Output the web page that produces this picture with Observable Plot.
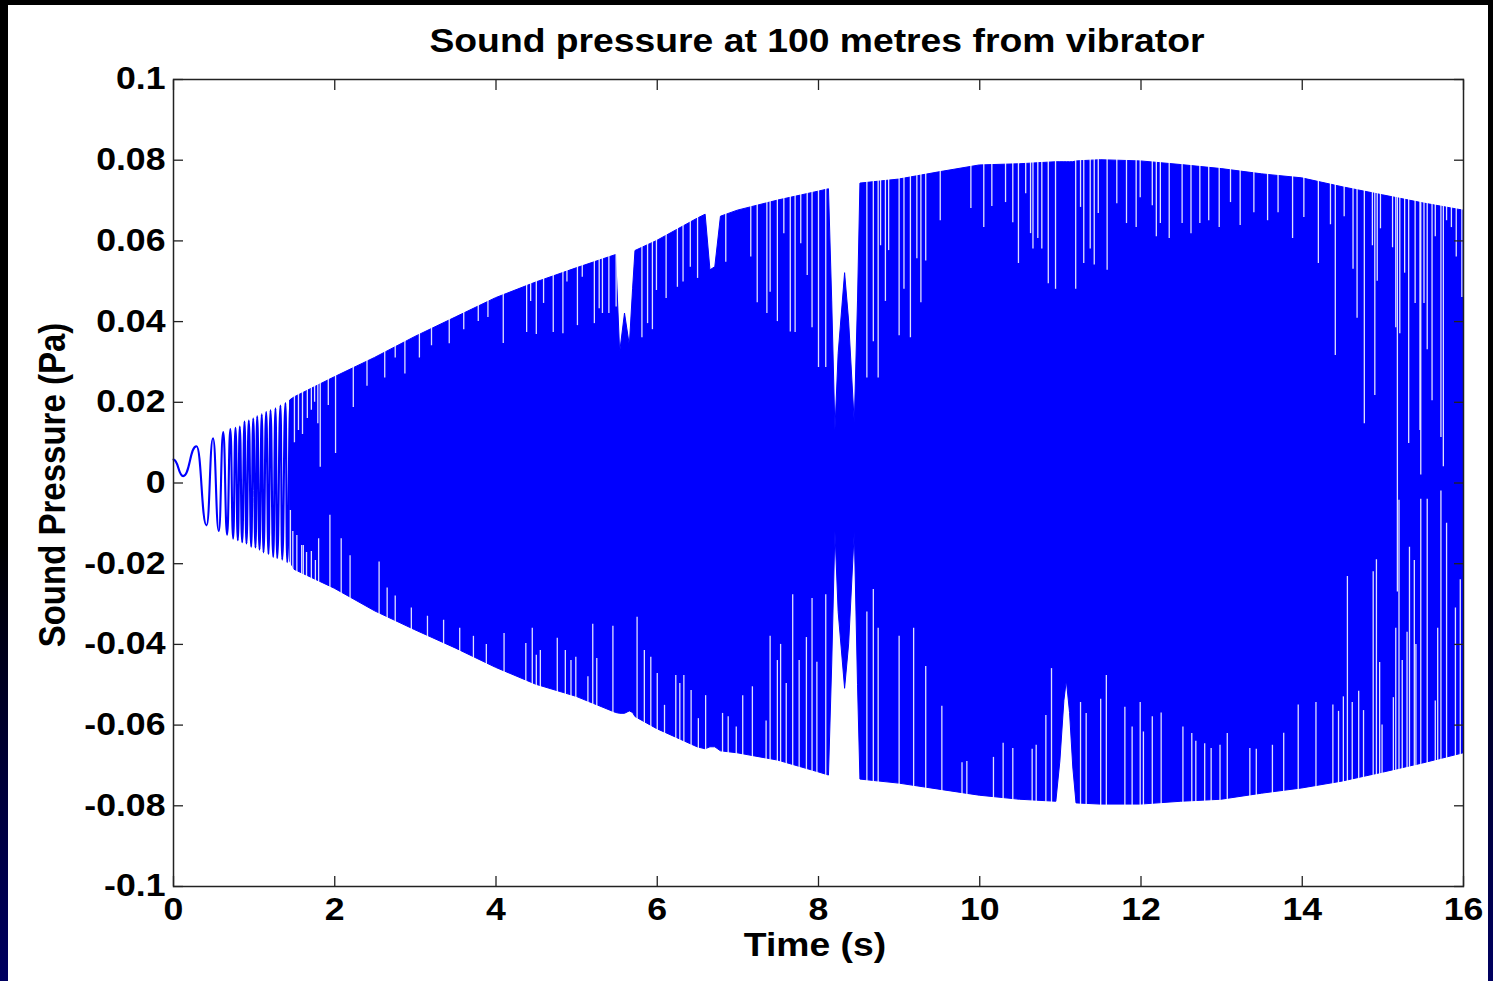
<!DOCTYPE html>
<html>
<head>
<meta charset="utf-8">
<script src="https://cdn.jsdelivr.net/npm/d3@7"></script>
<script src="https://cdn.jsdelivr.net/npm/@observablehq/plot@0.6"></script>
<style>
  html, body { margin: 0; padding: 0; background: #000; overflow: hidden; }
  #stage { position: relative; width: 1493px; height: 981px;
           background: linear-gradient(to bottom, #000 0%, #000 55%, #00003a 80%, #000060 100%); }
  #panel { position: absolute; left: 8px; top: 5px; width: 1480px; height: 976px; background: #fff; }
  #chart { position: absolute; left: 0; top: 0; }
  .lbl { position: absolute; font-family: "Liberation Sans", Arial, sans-serif; font-weight: bold;
         color: #000; white-space: nowrap; line-height: 1; }
  #title { left: 817px; top: 24px; font-size: 33px; transform: translateX(-50%) scaleX(1.13); }
  #xlabel { left: 815px; top: 928px; font-size: 33px; transform: translateX(-50%) scaleX(1.13); }
  #ylabel { left: 52px; top: 485px; font-size: 33px; transform: translate(-50%, -50%) rotate(-90deg) scaleY(1.13); }
</style>
</head>
<body>
<div id="stage">
  <div id="panel"></div>
  <div id="chart"></div>
  <div id="title" class="lbl">Sound pressure at 100 metres from vibrator</div>
  <div id="xlabel" class="lbl">Time (s)</div>
  <div id="ylabel" class="lbl">Sound Pressure (Pa)</div>
</div>
<script>
// ---- axis ticks ----
const xTicks = [0, 2, 4, 6, 8, 10, 12, 14, 16];
const xTickLabels = ["0", "2", "4", "6", "8", "10", "12", "14", "16"];
const yTicks = [-0.1, -0.08, -0.06, -0.04, -0.02, 0, 0.02, 0.04, 0.06, 0.08, 0.1];
const yTickLabels = ["-0.1", "-0.08", "-0.06", "-0.04", "-0.02", "0", "0.02", "0.04", "0.06", "0.08", "0.1"];

// ---- resolved oscillation at the start (extrema) ----
const earlyTime = [0, 0.12, 0.285, 0.41, 0.49, 0.562, 0.617, 0.665, 0.705, 0.740, 0.769, 0.798, 0.822, 0.852, 0.881,
  0.905, 0.934, 0.964, 0.989, 1.017, 1.038, 1.067, 1.095, 1.116, 1.150, 1.178, 1.203, 1.237, 1.265, 1.286,
  1.327, 1.348, 1.389, 1.410, 1.451];
const earlyPressure = [0.0058, 0.0017, 0.0091, -0.0105, 0.0111, -0.0119, 0.0126, -0.0128, 0.0134, -0.0138, 0.0137,
  -0.0142, 0.0140, -0.0147, 0.0152, -0.0150, 0.0155, -0.0158, 0.0160, -0.0160, 0.0165, -0.0165, 0.0170, -0.0172,
  0.0176, -0.0176, 0.0180, -0.0183, 0.0185, -0.0186, 0.0192, -0.0190, 0.0198, -0.0196, 0.0205];

// ---- envelope of the dense chirp (upper / lower extent) ----
const envTime = [1.45, 1.5, 2.0, 2.5, 3.0, 3.5, 4.0, 4.5, 5.0, 5.49, 5.54, 5.60, 5.66, 5.70, 5.73, 6.0, 6.5, 6.60,
  6.66, 6.72, 6.79, 7.0, 7.5, 8.0, 8.13, 8.17, 8.21, 8.25, 8.33, 8.38, 8.45, 8.49, 8.52, 9.0, 9.5, 10.0, 10.5,
  10.95, 11.0, 11.05, 11.08, 11.12, 11.16, 11.2, 11.5, 12.0, 12.5, 13.0, 13.5, 14.0, 14.5, 15.0, 15.5, 16.0];
const envUpper = [0.0205, 0.0212, 0.0262, 0.031, 0.0362, 0.041, 0.0458, 0.0497, 0.0532, 0.0565, 0.0323, 0.042,
  0.034, 0.048, 0.0575, 0.060, 0.0655, 0.0665, 0.0527, 0.0535, 0.066, 0.0675, 0.070, 0.0722, 0.0728, 0.045,
  0.013, 0.032, 0.052, 0.040, 0.0147, 0.045, 0.0742, 0.0752, 0.077, 0.0787, 0.079, 0.0795, 0.0795, 0.0795,
  0.0795, 0.0795, 0.0795, 0.0797, 0.080, 0.0797, 0.0788, 0.0778, 0.0765, 0.0755, 0.0733, 0.0713, 0.0693, 0.0675];
const envLower = [-0.0196, -0.0215, -0.0262, -0.0318, -0.0365, -0.041, -0.0458, -0.0500, -0.053, -0.057, -0.0572,
  -0.0572, -0.0566, -0.057, -0.058, -0.061, -0.0655, -0.066, -0.0655, -0.0655, -0.0665, -0.067, -0.0688, -0.0717,
  -0.0725, -0.045, -0.012, -0.032, -0.051, -0.040, -0.012, -0.050, -0.0735, -0.0745, -0.076, -0.0775, -0.0785,
  -0.079, -0.069, -0.054, -0.049, -0.057, -0.0705, -0.0794, -0.0797, -0.0797, -0.079, -0.0785, -0.077, -0.0757,
  -0.074, -0.0718, -0.0695, -0.067];

// ---- white gaps between oscillations: from the top edge down to a value ----
const gapTopTime = [1.50, 1.55, 1.60, 1.66, 1.71, 1.75, 1.79, 1.82, 1.92, 2.01, 2.23, 2.40, 2.62, 2.75, 2.87, 3.05,
  3.20, 3.42, 3.60, 3.78, 3.90, 4.09, 4.38, 4.43, 4.50, 4.59, 4.71, 4.83, 4.88, 5.01, 5.07, 5.22, 5.28, 5.32, 5.40,
  5.49, 5.81, 5.88, 5.94, 5.99, 6.11, 6.25, 6.32, 6.41, 6.50, 6.85, 7.16, 7.24, 7.36, 7.40, 7.49, 7.57, 7.65, 7.71,
  7.78, 7.86, 7.92, 8.00, 8.09, 8.60, 8.68, 8.74, 8.77, 8.83, 8.87, 9.00, 9.06, 9.14, 9.22, 9.27, 9.33, 9.51, 9.89,
  10.05, 10.15, 10.32, 10.41, 10.48, 10.57, 10.63, 10.66, 10.72, 10.77, 10.85, 10.94, 11.19, 11.25, 11.29, 11.37,
  11.42, 11.47, 11.58, 11.70, 11.82, 11.94, 11.99, 12.14, 12.19, 12.24, 12.35, 12.51, 12.62, 12.73, 12.84, 12.97,
  13.11, 13.23, 13.40, 13.57, 13.70, 13.88, 14.02, 14.20, 14.35, 14.41, 14.52, 14.63, 14.68, 14.77, 14.87, 14.90,
  14.93, 14.97, 15.12, 15.16, 15.18, 15.21, 15.27, 15.32, 15.40, 15.46, 15.47, 15.51, 15.55, 15.61, 15.65, 15.72,
  15.75, 15.79, 15.85, 15.91, 15.98];
const gapTopTo = [0.010, 0.013, 0.012, 0.016, 0.018, 0.020, 0.0147, 0.0039, 0.0192, 0.0073, 0.0187, 0.024, 0.026,
  0.031, 0.027, 0.031, 0.034, 0.0345, 0.038, 0.040, 0.041, 0.0346, 0.0373, 0.045, 0.0368, 0.0445, 0.0373, 0.037,
  0.0498, 0.039, 0.051, 0.0395, 0.0432, 0.042, 0.042, 0.0436, 0.036, 0.0395, 0.038, 0.0477, 0.0457, 0.0485, 0.0498,
  0.0535, 0.0507, 0.0547, 0.056, 0.0447, 0.042, 0.0473, 0.040, 0.0618, 0.0374, 0.0373, 0.0593, 0.0514, 0.0385,
  0.0286, 0.0286, 0.026, 0.035, 0.026, 0.0588, 0.045, 0.0576, 0.0365, 0.048, 0.036, 0.0556, 0.0447, 0.055, 0.065,
  0.068, 0.0633, 0.0685, 0.0695, 0.0645, 0.0544, 0.0717, 0.0618, 0.058, 0.0606, 0.058, 0.0494, 0.048, 0.048,
  0.0683, 0.0544, 0.058, 0.054, 0.0668, 0.0527, 0.0692, 0.0643, 0.0633, 0.0707, 0.0687, 0.061, 0.0643, 0.0606,
  0.0643, 0.0618, 0.0643, 0.065, 0.0633, 0.0695, 0.0638, 0.067, 0.065, 0.067, 0.0606, 0.0658, 0.0544, 0.064,
  0.0316, 0.066, 0.053, 0.0408, 0.0147, 0.0588, 0.0217, 0.050, 0.063, 0.0583, 0.0385, -0.027, 0.037, 0.052,
  0.0098, 0.0445, 0.013, 0.002, 0.0445, 0.033, 0.0204, 0.061, 0.0113, 0.004, 0.065, 0.0633, 0.056, 0.046];

// ---- white gaps from the bottom edge up to a value ----
const gapBottomTime = [1.45, 1.48, 1.53, 1.59, 1.61, 1.65, 1.71, 1.76, 1.80, 1.94, 2.08, 2.19, 2.55, 2.65, 2.75,
  2.95, 3.15, 3.35, 3.55, 3.72, 3.88, 4.10, 4.37, 4.45, 4.50, 4.55, 4.76, 4.86, 4.93, 4.99, 5.14, 5.20, 5.25, 5.45,
  5.75, 5.84, 5.92, 6.00, 6.09, 6.23, 6.28, 6.33, 6.42, 6.51, 6.60, 6.81, 6.88, 6.98, 7.06, 7.18, 7.35, 7.40, 7.49,
  7.53, 7.60, 7.68, 7.76, 7.85, 7.92, 7.98, 8.09, 8.60, 8.68, 8.74, 9.00, 9.18, 9.33, 9.53, 9.78, 9.84, 10.17,
  10.29, 10.41, 10.65, 10.70, 10.82, 10.89, 11.25, 11.32, 11.50, 11.57, 11.80, 11.89, 11.99, 12.03, 12.14, 12.25,
  12.52, 12.63, 12.68, 12.79, 12.87, 12.98, 13.07, 13.35, 13.43, 13.63, 13.77, 13.95, 14.17, 14.38, 14.45, 14.51,
  14.56, 14.62, 14.70, 14.76, 14.88, 14.92, 14.96, 14.99, 15.13, 15.16, 15.20, 15.24, 15.30, 15.33, 15.39, 15.41,
  15.47, 15.55, 15.65, 15.68, 15.72, 15.79, 15.90, 15.96];
const gapBottomTo = [-0.0068, -0.012, -0.013, -0.0155, -0.0155, -0.0172, -0.017, -0.0192, -0.0138, -0.008, -0.0138,
  -0.018, -0.0196, -0.026, -0.028, -0.031, -0.033, -0.034, -0.036, -0.038, -0.040, -0.0373, -0.0398, -0.036,
  -0.0427, -0.0415, -0.0385, -0.0415, -0.044, -0.0432, -0.048, -0.035, -0.0435, -0.0355, -0.0333, -0.0415, -0.0432,
  -0.0472, -0.0551, -0.0477, -0.0497, -0.0477, -0.0514, -0.0584, -0.0527, -0.0571, -0.0579, -0.0605, -0.0527,
  -0.0505, -0.059, -0.038, -0.044, -0.040, -0.0497, -0.0277, -0.044, -0.0383, -0.0286, -0.0444, -0.0277, -0.032,
  -0.0264, -0.036, -0.038, -0.036, -0.0455, -0.0553, -0.0693, -0.069, -0.068, -0.0645, -0.0658, -0.066, -0.065,
  -0.0576, -0.046, -0.0544, -0.0571, -0.0536, -0.0477, -0.0556, -0.0605, -0.0544, -0.0617, -0.0579, -0.057, -0.0605,
  -0.0621, -0.064, -0.0646, -0.0658, -0.065, -0.0621, -0.0658, -0.066, -0.065, -0.062, -0.055, -0.0544, -0.055,
  -0.0566, -0.053, -0.0232, -0.0544, -0.0516, -0.0564, -0.022, -0.019, -0.0445, -0.060, -0.0532, -0.036, -0.0043,
  -0.044, -0.037, -0.0159, -0.0192, -0.040, -0.004, -0.004, -0.054, -0.036, -0.002, -0.010, -0.031, -0.024];

// ---- build tables ----
const early = earlyTime.map((t, i) => ({t, p: earlyPressure[i]}));
const env = envTime.map((t, i) => ({t, hi: envUpper[i], lo: envLower[i]}));
const gapsTop = gapTopTime.map((t, i) => ({t, to: gapTopTo[i]}));
const gapsBottom = gapBottomTime.map((t, i) => ({t, to: gapBottomTo[i]}));

const yDomain = [-0.1, 0.1];
const blue = "#0000ff";
const font = "'Liberation Sans', Arial, sans-serif";

const chart = Plot.plot({
  width: 1493,
  height: 981,
  marginLeft: 173,
  marginRight: 30,
  marginTop: 79,
  marginBottom: 95,
  style: {background: "transparent", fontFamily: font, fontWeight: "bold", fontSize: "31px", color: "#000", overflow: "visible"},
  x: {domain: [0, 16]},
  y: {domain: yDomain},
  marks: [
    Plot.areaY(env, {x: "t", y1: "lo", y2: "hi", fill: blue, stroke: blue, strokeWidth: 1}),
    Plot.line(early, {x: "t", y: "p", stroke: blue, strokeWidth: 2.1, curve: "bump-x"}),
    Plot.ruleX(gapsTop, {x: "t", y1: "to", y2: () => yDomain[1], stroke: "#fff", strokeWidth: 1.3, strokeOpacity: 0.88}),
    Plot.ruleX(gapsBottom, {x: "t", y1: () => yDomain[0], y2: "to", stroke: "#fff", strokeWidth: 1.3, strokeOpacity: 0.88}),
    Plot.frame({stroke: "#222", strokeWidth: 1.5}),
    // labels
    Plot.axisY(yTicks, {anchor: "left", tickSize: 0, tickPadding: 8, label: null,
      tickFormat: d => yTickLabels[yTicks.indexOf(d)]}),
    Plot.axisX(xTicks, {anchor: "bottom", tickSize: 0, tickPadding: 11, label: null,
      tickFormat: d => xTickLabels[xTicks.indexOf(d)]}),
    // inward ticks on all four sides
    Plot.axisY(yTicks, {anchor: "left", tickSize: -10, label: null, tickFormat: () => "", stroke: "#222", strokeWidth: 1.3}),
    Plot.axisY(yTicks, {anchor: "right", tickSize: -10, label: null, tickFormat: () => "", stroke: "#222", strokeWidth: 1.3}),
    Plot.axisX(xTicks, {anchor: "bottom", tickSize: -10, label: null, tickFormat: () => "", stroke: "#222", strokeWidth: 1.3}),
    Plot.axisX(xTicks, {anchor: "top", tickSize: -10, label: null, tickFormat: () => "", stroke: "#222", strokeWidth: 1.3})
  ]
});

// widen the tick label glyphs like the (horizontally stretched) reference
d3.select(chart).selectAll("g[aria-label='y-axis tick label'] text, g[aria-label='x-axis tick label'] text")
  .each(function () {
    const tr = this.getAttribute("transform") || "";
    this.setAttribute("transform", tr + " scale(1.15,1)");
  });

document.getElementById("chart").appendChild(chart);
</script>
</body>
</html>
